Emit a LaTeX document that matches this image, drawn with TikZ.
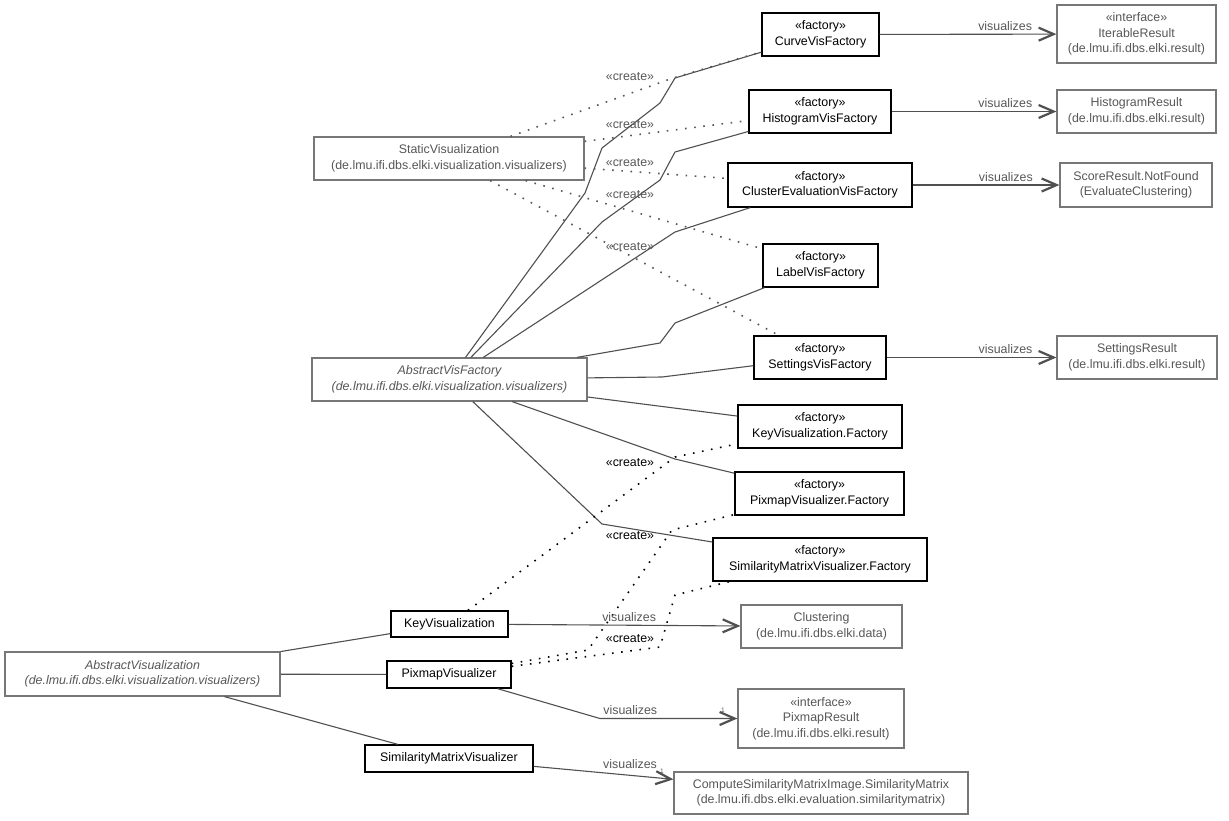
\documentclass[tikz,border=0pt]{standalone}
\usepackage{fontspec}
\setmainfont{Liberation Sans}
\usetikzlibrary{arrows.meta}
\definecolor{exttext}{HTML}{575757}
\definecolor{extline}{HTML}{777777}
\definecolor{edge}{HTML}{505050}
\newcommand{\umlfont}{\fontsize{12.4}{15.5}\selectfont}
\tikzset{
  cls/.style={draw=black, line width=1.3pt, fill=white, align=center,
              inner sep=0pt, font=\umlfont},
  extcls/.style={draw=extline, line width=1.2pt, fill=white, align=center,
                 inner sep=0pt, font=\umlfont, text=exttext},
  abscls/.style={extcls, font=\umlfont\itshape},
  assoc/.style={draw=edge, line width=1.1pt},
  nav/.style={assoc, -{Straight Barb[length=15pt,width=13pt,line width=2.2pt]}},
  create/.style={line width=1.6pt, dash pattern=on 1.6pt off 7.6pt},
  extcreate/.style={create, draw=exttext},
  lbl/.style={font=\umlfont, text=exttext, inner sep=3pt},
  crlbl/.style={font=\umlfont, inner sep=0pt},
  mult/.style={font=\fontsize{6.5}{6.5}\selectfont, text=exttext, inner sep=0pt},
}

\begin{document}
\begin{tikzpicture}[x=1pt, y=-1pt]
\useasboundingbox (0,0) rectangle (1229,820);

% ---- abstract bases ------------------------------------------------
\node[extcls, minimum width=270pt, minimum height=43pt] (static) at (449,158.5)
     {StaticVisualization\\(de.lmu.ifi.dbs.elki.visualization.visualizers)};
\node[abscls, minimum width=275pt, minimum height=43pt] (avf) at (449.5,379.5)
     {AbstractVisFactory\\(de.lmu.ifi.dbs.elki.visualization.visualizers)};
\node[abscls, minimum width=275pt, minimum height=44pt] (av) at (142.5,674)
     {AbstractVisualization\\(de.lmu.ifi.dbs.elki.visualization.visualizers)};

% ---- factories -----------------------------------------------------
\node[cls, minimum width=117pt, minimum height=43pt] (curve) at (820.5,34.5)
     {«factory»\\CurveVisFactory};
\node[cls, minimum width=142pt, minimum height=43pt] (hist) at (820,111.5)
     {«factory»\\HistogramVisFactory};
\node[cls, minimum width=184pt, minimum height=44pt] (clust) at (820,185)
     {«factory»\\ClusterEvaluationVisFactory};
\node[cls, minimum width=115pt, minimum height=43pt] (label) at (820.5,265.5)
     {«factory»\\LabelVisFactory};
\node[cls, minimum width=132pt, minimum height=43pt] (settings) at (820,357.5)
     {«factory»\\SettingsVisFactory};
\node[cls, minimum width=164pt, minimum height=43pt] (keyfac) at (820,426.5)
     {«factory»\\KeyVisualization.Factory};
\node[cls, minimum width=169pt, minimum height=43pt] (pixfac) at (819.5,493.5)
     {«factory»\\PixmapVisualizer.Factory};
\node[cls, minimum width=214pt, minimum height=43pt] (simfac) at (820,559.5)
     {«factory»\\SimilarityMatrixVisualizer.Factory};

% ---- visualizers ---------------------------------------------------
\node[cls, minimum width=117pt, minimum height=26pt] (keyvis) at (449.5,624)
     {KeyVisualization};
\node[cls, minimum width=124pt, minimum height=27pt] (pixvis) at (449,674.5)
     {PixmapVisualizer};
\node[cls, minimum width=168pt, minimum height=27pt] (simvis) at (449,758.5)
     {SimilarityMatrixVisualizer};

% ---- results -------------------------------------------------------
\node[extcls, minimum width=159pt, minimum height=58pt] (iterres) at (1136.5,34)
     {«interface»\\IterableResult\\(de.lmu.ifi.dbs.elki.result)};
\node[extcls, minimum width=159pt, minimum height=43pt] (histres) at (1136.5,111.5)
     {HistogramResult\\(de.lmu.ifi.dbs.elki.result)};
\node[extcls, minimum width=152pt, minimum height=44pt] (scoreres) at (1136,185)
     {ScoreResult.NotFound\\(EvaluateClustering)};
\node[extcls, minimum width=160pt, minimum height=43pt] (setres) at (1137,357.5)
     {SettingsResult\\(de.lmu.ifi.dbs.elki.result)};
\node[extcls, minimum width=161pt, minimum height=43pt] (clustering) at (821.5,626.5)
     {Clustering\\(de.lmu.ifi.dbs.elki.data)};
\node[extcls, minimum width=166pt, minimum height=59pt] (pixres) at (821,718.5)
     {«interface»\\PixmapResult\\(de.lmu.ifi.dbs.elki.result)};
\node[extcls, minimum width=294pt, minimum height=42pt] (simres) at (821,793)
     {ComputeSimilarityMatrixImage.SimilarityMatrix\\(de.lmu.ifi.dbs.elki.evaluation.similaritymatrix)};

% ---- generalizations -----------------------------------------------
\draw[assoc] (avf) -- (585,193) -- (602,148) -- (660,103) -- (675,78) -- (curve);
\draw[assoc] (avf) -- (602,222) -- (660,180) -- (675,152) -- (hist);
\draw[assoc] (avf) -- (675,232) -- (clust);
\draw[assoc] (avf) -- (660,343) -- (675,323) -- (label);
\draw[assoc] (avf) -- (662,377) -- (settings);
\draw[assoc] (avf) -- (keyfac);
\draw[assoc] (avf) -- (675,459) -- (pixfac);
\draw[assoc] (avf) -- (602,524) -- (simfac);
\draw[assoc] (av) -- (keyvis);
\draw[assoc] (av) -- (pixvis);
\draw[assoc] (av) -- (simvis);

% ---- create dependencies -------------------------------------------
\draw[extcreate] (static) -- (673,78) -- (curve);
\draw[extcreate] (static) -- (hist);
\draw[extcreate] (static) -- (clust);
\draw[extcreate] (static) -- (label);
\draw[extcreate] (static) -- (settings);
\draw[create] (keyvis) -- (675,457) -- (keyfac);
\draw[create] (pixvis) -- (588,650) -- (672,530) -- (pixfac);
\draw[create] (pixvis) -- (660,647) -- (675,595) -- (simfac);

\node[crlbl, text=exttext] (cr1) at (630,77)  {«create»};
\node[crlbl, text=exttext] (cr2) at (630,125) {«create»};
\node[crlbl, text=exttext] (cr3) at (630,163) {«create»};
\node[crlbl, text=exttext] (cr4) at (630,195) {«create»};
\node[crlbl, text=exttext] (cr5) at (630,247) {«create»};
\node[crlbl] (cr6) at (630,463) {«create»};
\node[crlbl] (cr7) at (630,536) {«create»};
\node[crlbl] (cr8) at (630,639) {«create»};

% ---- visualizes ----------------------------------------------------
\draw[nav] (curve) -- node[lbl, above, pos=0.71] (v1) {visualizes} (iterres);
\draw[nav] (hist) -- node[lbl, above, pos=0.69] (v2) {visualizes} (histres);
\draw[nav] (clust) -- node[lbl, above, pos=0.635] (v3) {visualizes} (scoreres);
\draw[nav] (settings) -- node[lbl, above, pos=0.70] (v4) {visualizes} (setres);
\draw[nav] (keyvis) -- node[lbl, above, pos=0.52] (v5) {visualizes} (clustering);
\draw[nav] (pixvis) -- (600,718.5) -- node[lbl, above, pos=0.22] (v6) {visualizes} (pixres);
\draw[nav] (simvis) -- node[lbl, above, pos=0.69, yshift=3pt] (v7) {visualizes} (simres);
\node[mult] (m1) at (723,710) {1};
\node[mult] (m2) at (662,771) {1};
\end{tikzpicture}
\end{document}
